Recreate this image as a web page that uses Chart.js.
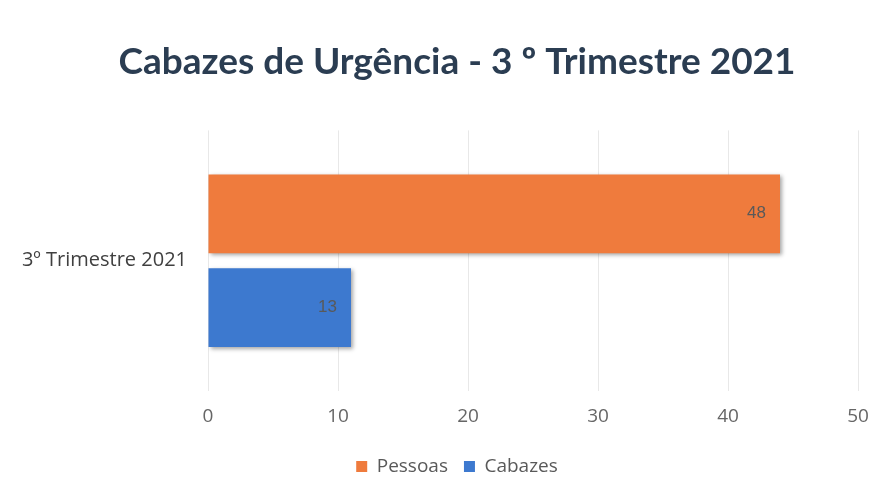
<!DOCTYPE html>
<html>
<head>
<meta charset="utf-8">
<script src="https://cdn.jsdelivr.net/npm/chart.js@4/dist/chart.umd.min.js"></script>
<style>
  html, body { margin: 0; padding: 0; background: #fff; }
  #wrap { width: 888px; height: 492px; position: relative; }
</style>
</head>
<body>
<div id="wrap"><canvas id="chart" width="888" height="492"></canvas></div>
<script>
// values (bar lengths against the axis) and the printed labels
const categories = ['3º Trimestre 2021'];
const pessoas = [44];
const cabazes = [11];
const pessoasLabels = ['48'];
const cabazesLabels = ['13'];
const xTicks = [0, 10, 20, 30, 40, 50];

const barShadow = {
    id: 'barShadow',
    afterLayout(chart) {
        // title and legend are centred a bit right of the canvas centre in the original
        [chart.titleBlock, chart.legend].forEach(b => { b.left += 56; b.width -= 56; });
    },
    beforeDatasetsDraw(chart) {
        const ctx = chart.ctx;
        ctx.save();
        ctx.shadowColor = 'rgba(0,0,0,0.35)';
        ctx.shadowBlur = 4;
        ctx.shadowOffsetX = 2;
        ctx.shadowOffsetY = 2;
    },
    afterDatasetsDraw(chart) {
        chart.ctx.restore();
        // value labels inside bar ends
        const ctx = chart.ctx;
        const texts = [pessoasLabels, cabazesLabels];
        ctx.save();
        ctx.font = '17px "Liberation Sans", Arial, sans-serif';
        ctx.fillStyle = '#595959';
        ctx.textAlign = 'right';
        ctx.textBaseline = 'middle';
        chart.data.datasets.forEach((ds, i) => {
            chart.getDatasetMeta(i).data.forEach((bar, j) => {
                ctx.fillText(texts[i][j], bar.x - 14, bar.y);
            });
        });
        ctx.restore();
    }
};

new Chart(document.getElementById('chart'), {
    type: 'bar',
    data: {
        labels: categories,
        datasets: [
            { label: 'Pessoas', data: pessoas, backgroundColor: '#EF7B3D', categoryPercentage: 0.72, barPercentage: 0.84 },
            { label: 'Cabazes', data: cabazes, backgroundColor: '#3D79CF', categoryPercentage: 0.72, barPercentage: 0.84 }
        ]
    },
    options: {
        indexAxis: 'y',
        responsive: false,
        animation: false,
        layout: { padding: { left: 0, right: 30, top: 0, bottom: 6 } },
        plugins: {
            title: {
                display: true,
                text: 'Cabazes de Urgência - 3 º Trimestre 2021',
                color: '#2B3D52',
                font: { family: 'Lato, "Open Sans", sans-serif', size: 37, weight: 'bold' },
                padding: { top: 40, bottom: 46 }
            },
            legend: {
                position: 'bottom',
                labels: {
                    color: '#595959',
                    font: { family: '"Open Sans", sans-serif', size: 19 },
                    boxWidth: 11, boxHeight: 11, padding: 16
                }
            },
            tooltip: { enabled: false }
        },
        scales: {
            x: {
                min: 0, max: 50,
                afterBuildTicks: s => { s.ticks = xTicks.map(v => ({ value: v })); },
                grid: { color: '#E8E8E8', tickLength: 0 },
                border: { display: false },
                ticks: { color: '#666666', font: { family: '"Open Sans", sans-serif', size: 19 }, padding: 14 },
                afterFit: s => { s.height = 50; }
            },
            y: {
                grid: { display: false },
                border: { display: false },
                ticks: { color: '#404040', font: { family: '"Open Sans", sans-serif', size: 20 }, padding: 13 },
                afterFit: s => { s.width = 208; }
            }
        }
    },
    plugins: [barShadow]
});
</script>
</body>
</html>
